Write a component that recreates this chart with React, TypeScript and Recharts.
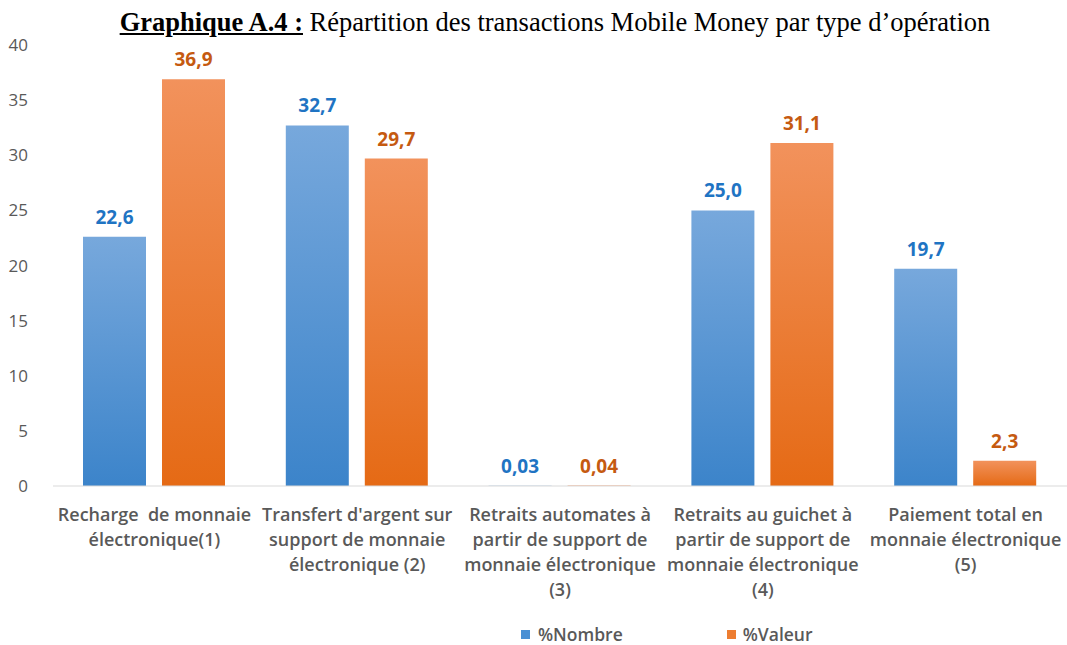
import { BarChart, Bar, XAxis, YAxis, LabelList } from 'recharts';

const categories = [
  'Recharge  de monnaie\nélectronique(1)',
  "Transfert d'argent sur\nsupport de monnaie\nélectronique (2)",
  'Retraits automates à\npartir de support de\nmonnaie électronique\n(3)',
  'Retraits au guichet à\npartir de support de\nmonnaie électronique\n(4)',
  'Paiement total en\nmonnaie électronique\n(5)',
];
const nombre = [22.6, 32.7, 0.03, 25.0, 19.7];
const valeur = [36.9, 29.7, 0.04, 31.1, 2.3];
const yTicks = [0, 5, 10, 15, 20, 25, 30, 35, 40];

const data = categories.map((c, i) => ({ name: c, nombre: nombre[i], valeur: valeur[i] }));

const fmt = (v: any) => {
  const n = Number(v);
  return (n < 1 ? n.toFixed(2) : n.toFixed(1)).replace('.', ',');
};

const CatTick = (props: any) => {
  const { x, y, payload } = props;
  const lines = String(payload.value).split('\n');
  return (
    <text x={x} y={y} textAnchor="middle" fill="#595959" fontSize={18} fontWeight={600} fontFamily="Open Sans">
      {lines.map((l, i) => (
        <tspan key={i} x={x} dy={i === 0 ? 27 : 25} style={{ whiteSpace: 'pre' }}>
          {l}
        </tspan>
      ))}
    </text>
  );
};

export default function App() {
  return (
    <div style={{ position: 'absolute', left: 0, top: 0, width: 1067, height: 645, background: '#fff', overflow: 'hidden' }}>
      <div
        style={{
          position: 'absolute',
          left: 0,
          top: 7,
          width: 1110,
          textAlign: 'center',
          fontFamily: 'Liberation Serif',
          fontSize: 26.5,
          lineHeight: '30px',
          color: '#000',
          zIndex: 2,
        }}
      >
        <span style={{ fontWeight: 'bold', textDecoration: 'underline' }}>Graphique A.4 :</span> Répartition des
        transactions Mobile Money par type d’opération
      </div>
      <BarChart
        width={1067}
        height={620}
        data={data}
        margin={{ top: 45, right: 0, bottom: 104, left: 0 }}
        barGap={16}
        barSize={63}
      >
        <defs>
          <linearGradient id="gBlue" x1="0" y1="0" x2="0" y2="1">
            <stop offset="0%" stopColor="#77A8DC" />
            <stop offset="100%" stopColor="#3C84CA" />
          </linearGradient>
          <linearGradient id="gOrange" x1="0" y1="0" x2="0" y2="1">
            <stop offset="0%" stopColor="#F2925C" />
            <stop offset="100%" stopColor="#E56A15" />
          </linearGradient>
        </defs>
        <XAxis
          dataKey="name"
          axisLine={{ stroke: '#D9D9D9' }}
          tickLine={false}
          tick={<CatTick />}
          interval={0}
        />
        <YAxis
          width={53}
          domain={[0, 40]}
          ticks={yTicks}
          axisLine={false}
          tickLine={false}
          tickMargin={19}
          tick={{ fill: '#595959', fontSize: 17, fontFamily: 'Open Sans' }}
        />
        <Bar dataKey="nombre" name="%Nombre" fill="url(#gBlue)" isAnimationActive={false}>
          <LabelList
            dataKey="nombre"
            position="top"
            offset={13}
            formatter={fmt}
            fill="#1F74C3"
            fontSize={19}
            fontWeight="bold"
            fontFamily="Open Sans"
          />
        </Bar>
        <Bar dataKey="valeur" name="%Valeur" fill="url(#gOrange)" isAnimationActive={false}>
          <LabelList
            dataKey="valeur"
            position="top"
            offset={13}
            formatter={fmt}
            fill="#C55A11"
            fontSize={19}
            fontWeight="bold"
            fontFamily="Open Sans"
          />
        </Bar>
      </BarChart>
      <div
        style={{
          position: 'absolute',
          top: 624,
          left: 521,
          height: 20,
          display: 'flex',
          alignItems: 'center',
          fontFamily: 'Open Sans',
          fontSize: 17.5,
          lineHeight: '20px',
          fontWeight: 600,
          color: '#595959',
        }}
      >
        <span style={{ width: 9, height: 9, background: '#4A90D4', display: 'inline-block', marginRight: 8 }} />
        <span>%Nombre</span>
        <span
          style={{ width: 9, height: 9, background: '#ED7D31', display: 'inline-block', marginLeft: 104, marginRight: 7 }}
        />
        <span>%Valeur</span>
      </div>
    </div>
  );
}
